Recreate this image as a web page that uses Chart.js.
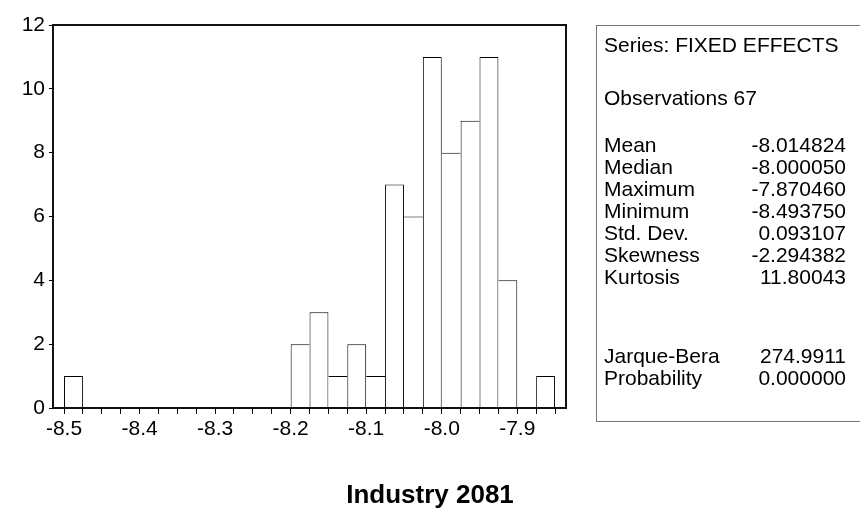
<!DOCTYPE html>
<html>
<head>
<meta charset="utf-8">
<script src="https://cdn.jsdelivr.net/npm/chart.js@4.4.0/dist/chart.umd.min.js"></script>
<style>
  html, body { margin: 0; padding: 0; background: #fff; }
  #wrap { position: relative; width: 860px; height: 518px; overflow: hidden;
          font-family: "Liberation Sans", Arial, sans-serif; color: #000; }
  #c { position: absolute; left: 0; top: 0; }
  #stats { position: absolute; left: 596px; top: 25px; width: 280px; height: 397px;
           border: 1.5px solid #777; box-sizing: border-box; padding-top: 8px;
           font-size: 21px; line-height: 22px; }
  .row { display: flex; justify-content: space-between; width: 242px; padding-left: 7px; white-space: nowrap; }
  #title { position: absolute; left: 0; top: 479px; width: 860px; text-align: center;
           font-weight: bold; font-size: 26px; line-height: 30px; }
</style>
</head>
<body>
<div id="wrap">
  <canvas id="c" width="860" height="518"></canvas>
  <div id="stats"></div>
  <div id="title"></div>
</div>
<script>
// ---- data ----
const chartTitle = 'Industry 2081';
const binWidth = 0.025;
const binStarts = [-8.500, -8.475, -8.450, -8.425, -8.400, -8.375, -8.350, -8.325, -8.300,
                   -8.275, -8.250, -8.225, -8.200, -8.175, -8.150, -8.125, -8.100, -8.075,
                   -8.050, -8.025, -8.000, -7.975, -7.950, -7.925, -7.900, -7.875];
const binCounts = [1, 0, 0, 0, 0, 0, 0, 0, 0,
                   0, 0, 0, 2, 3, 1, 2, 1, 7,
                   6, 11, 8, 9, 11, 4, 0, 1];
const xMajorTicks = [-8.5, -8.4, -8.3, -8.2, -8.1, -8.0, -7.9];
const xMajorLabels = ['-8.5', '-8.4', '-8.3', '-8.2', '-8.1', '-8.0', '-7.9'];
const yTicks = [0, 2, 4, 6, 8, 10, 12];
const xRange = [-8.5146, -7.8355];
const yRange = [0, 12];

const seriesName = 'FIXED EFFECTS';
const observations = 67;
const statLabels = ['Mean', 'Median', 'Maximum', 'Minimum', 'Std. Dev.', 'Skewness', 'Kurtosis'];
const statValues = ['-8.014824', '-8.000050', '-7.870460', '-8.493750', '0.093107', '-2.294382', '11.80043'];
const testLabels = ['Jarque-Bera', 'Probability'];
const testValues = ['274.9911', '0.000000'];

// ---- stats box ----
const stats = document.getElementById('stats');
function addRow(label, value, mt) {
  const r = document.createElement('div');
  r.className = 'row';
  if (mt) r.style.marginTop = mt + 'px';
  const a = document.createElement('span'); a.textContent = label;
  const b = document.createElement('span'); b.textContent = value || '';
  r.appendChild(a); r.appendChild(b);
  stats.appendChild(r);
}
addRow('Series: ' + seriesName, '', 0);
addRow('Observations ' + observations, '', 31);
statLabels.forEach((l, i) => addRow(l, statValues[i], i === 0 ? 25 : 0));
testLabels.forEach((l, i) => addRow(l, testValues[i], i === 0 ? 57 : 0));
document.getElementById('title').textContent = chartTitle;

// ---- chart ----
const binEdges = binStarts.concat([binStarts[binStarts.length - 1] + binWidth]);
const points = binStarts.map((s, i) => ({ x: s + binWidth / 2, y: binCounts[i] }));
const FONT = '"Liberation Sans", Arial, sans-serif';

function sideWidths(ctx) {
  const i = ctx.dataIndex, c = binCounts, n = c.length;
  return {
    top: 1,
    bottom: 0,
    left: (i === 0 || c[i - 1] <= c[i]) ? 1 : 0,
    right: (i === n - 1 || c[i + 1] < c[i]) ? 1 : 0
  };
}

const framePlugin = {
  id: 'frame',
  afterDraw(chart) {
    const a = chart.chartArea, g = chart.ctx;
    g.save();
    g.strokeStyle = '#111';
    g.lineWidth = 2;
    g.strokeRect(a.left, a.top, a.right - a.left, a.bottom - a.top);
    g.restore();
  }
};

new Chart(document.getElementById('c'), {
  type: 'bar',
  data: {
    datasets: [{
      data: points,
      backgroundColor: '#fff',
      borderColor: '#000',
      borderWidth: sideWidths,
      borderSkipped: false,
      inflateAmount: 0,
      barPercentage: 1,
      categoryPercentage: 1
    }]
  },
  options: {
    responsive: false,
    animation: false,
    events: [],
    layout: { padding: { left: 0, top: 25, right: 294, bottom: 0 } },
    plugins: { legend: { display: false }, tooltip: { enabled: false }, title: { display: false } },
    scales: {
      x: {
        type: 'linear',
        min: xRange[0], max: xRange[1],
        offset: false,
        grid: { offset: false, drawOnChartArea: false, drawTicks: true, tickLength: 6, color: '#000', lineWidth: 1 },
        border: { display: true, color: '#111', width: 2 },
        ticks: {
          autoSkip: false, maxRotation: 0, padding: 3, color: '#000',
          font: { size: 21, family: FONT },
          callback: (v) => {
            const k = xMajorTicks.findIndex(t => Math.abs(t - v) < 1e-6);
            return k >= 0 ? xMajorLabels[k] : '';
          }
        },
        afterBuildTicks: (s) => { s.ticks = binEdges.map(v => ({ value: v })); },
        afterFit: (s) => { s.height = 110; }
      },
      y: {
        min: yRange[0], max: yRange[1],
        grid: { drawOnChartArea: false, drawTicks: true, tickLength: 4, color: '#000', lineWidth: 1 },
        border: { display: true, color: '#111', width: 2 },
        ticks: { padding: 4, color: '#000', font: { size: 21, family: FONT } },
        afterBuildTicks: (s) => { s.ticks = yTicks.map(v => ({ value: v })); },
        afterFit: (s) => { s.width = 53; }
      }
    }
  },
  plugins: [framePlugin]
});
</script>
</body>
</html>
